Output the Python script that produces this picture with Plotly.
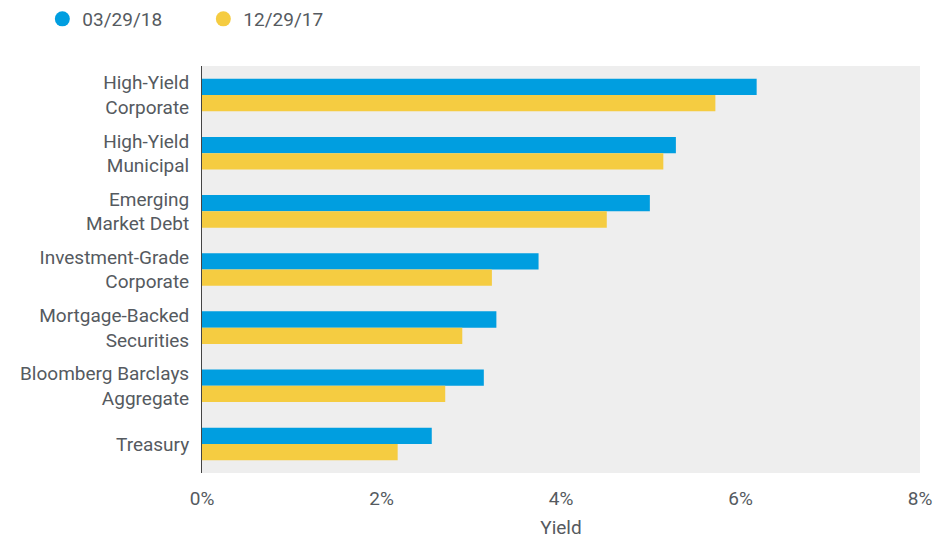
import plotly.graph_objects as go

categories = ["High-Yield<br>Corporate", "High-Yield<br>Municipal", "Emerging<br>Market Debt",
              "Investment-Grade<br>Corporate", "Mortgage-Backed<br>Securities",
              "Bloomberg Barclays<br>Aggregate", "Treasury"]
yield_2018 = [6.18, 5.28, 4.99, 3.75, 3.28, 3.14, 2.56]
yield_2017 = [5.72, 5.14, 4.51, 3.23, 2.90, 2.71, 2.18]
series_names = ["03/29/18", "12/29/17"]
tick_vals = [0, 2, 4, 6, 8]
tick_text = ["0%", "2%", "4%", "6%", "8%"]

BLUE = "#009ee0"
YELLOW = "#f5cc41"
FONT = "Roboto"
TXT = "#555a60"

fig = go.Figure()
for name, vals, col in [(series_names[0], yield_2018, BLUE), (series_names[1], yield_2017, YELLOW)]:
    fig.add_trace(go.Bar(y=categories, x=vals, orientation="h", name=name,
                         marker=dict(color=col, line=dict(width=0)), showlegend=False))
for name, col in [(series_names[0], BLUE), (series_names[1], YELLOW)]:
    fig.add_trace(go.Scatter(x=[None], y=[None], mode="markers", name=name,
                             marker=dict(color=col, size=15, symbol="circle")))

fig.update_layout(
    width=941, height=539,
    margin=dict(l=202, r=21, t=66, b=66, autoexpand=False),
    paper_bgcolor="white", plot_bgcolor="#eeeeee",
    barmode="group", bargap=0.44, bargroupgap=0,
    font=dict(family=FONT, size=19, color=TXT),
    legend=dict(orientation="h", xref="container", yref="container", x=0.045, y=1.0,
                xanchor="left", yanchor="top", font=dict(size=19, color=TXT),
                itemwidth=30, tracegroupgap=0, entrywidth=116),
    xaxis=dict(range=[0, 8], tickvals=tick_vals, ticktext=tick_text, showgrid=False,
               zeroline=False, showline=False, ticks="", ticklabelstandoff=12,
               automargin=False,
               title=dict(text="Yield", standoff=14, font=dict(size=19, color=TXT))),
    yaxis=dict(autorange="reversed", showgrid=False, showline=True, linecolor="#444444",
               linewidth=1, ticks="", ticklabelstandoff=8, automargin=False),
)
fig.write_html("out.html", config={"displayModeBar": False},
               post_script="document.body.style.margin='0';")
